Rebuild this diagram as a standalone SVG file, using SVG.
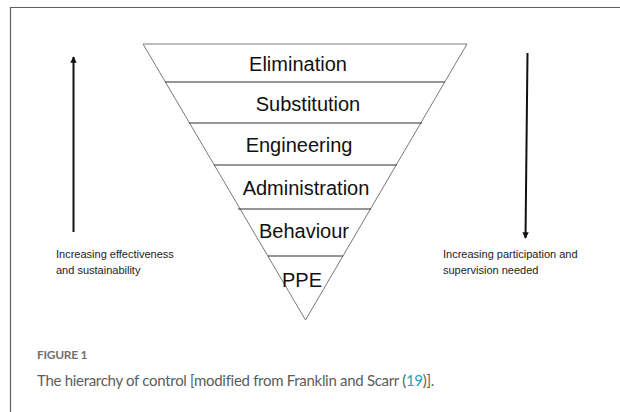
<svg xmlns="http://www.w3.org/2000/svg" width="620" height="412" viewBox="0 0 620 412">
  <style>
    .frame { fill: none; stroke: #5f5f5f; stroke-width: 1.2; }
    .tri { fill: #ffffff; stroke: #7a7a7a; stroke-width: 1; }
    .sep { stroke: #2f2f2f; stroke-width: 1.2; }
    .lbl { font-family: "Liberation Sans", Arial, sans-serif; font-size: 20px; fill: #111111; text-anchor: middle; }
    .side { font-family: "Liberation Sans", Arial, sans-serif; font-size: 11px; fill: #222222; }
    .arrow { stroke: #111111; stroke-width: 2; fill: none; }
    .caphead { font-family: "Lato", "Liberation Sans", sans-serif; font-size: 12px; letter-spacing: -0.3px; fill: #707070; font-weight: bold; }
    .captext { font-family: "Lato", "Liberation Sans", sans-serif; font-size: 15px; letter-spacing: -0.3px; fill: #5c5c5c; }
  </style>
  <defs>
    <marker id="ah" viewBox="0 0 10 10" refX="9" refY="5" markerWidth="3.2" markerHeight="3.6" orient="auto" markerUnits="strokeWidth">
      <path d="M0,0 L10,5 L0,10 Z" fill="#111111"/>
    </marker>
  </defs>
  <rect width="620" height="412" fill="#ffffff"/>
  <path class="frame" d="M10.5,420 L10.5,7.5 L630,7.5"/>

  <g id="pyramid">
    <polygon class="tri" points="143,44 467,44 305.5,320"/>
  </g>
  <g id="separators">
    <line class="sep" x1="165" y1="82" x2="445" y2="82"/>
    <line class="sep" x1="189" y1="123" x2="422" y2="123"/>
    <line class="sep" x1="214" y1="165" x2="397" y2="165"/>
    <line class="sep" x1="238" y1="209" x2="371" y2="209"/>
    <line class="sep" x1="268" y1="256" x2="343" y2="256"/>
  </g>
  <g id="elimination"><text class="lbl" x="298" y="71">Elimination</text></g>
  <g id="substitution"><text class="lbl" x="308" y="111">Substitution</text></g>
  <g id="engineering"><text class="lbl" x="299" y="152">Engineering</text></g>
  <g id="administration"><text class="lbl" x="306" y="195">Administration</text></g>
  <g id="behaviour"><text class="lbl" x="304" y="238">Behaviour</text></g>
  <g id="ppe"><text class="lbl" x="302" y="287">PPE</text></g>

  <g id="connectors">
    <line class="arrow" x1="73.5" y1="232" x2="73.5" y2="57" marker-end="url(#ah)"/>
    <line class="arrow" x1="527.5" y1="53" x2="525.5" y2="238" marker-end="url(#ah)"/>
  </g>

  <g id="left-label">
    <text class="side" x="56" y="258">Increasing effectiveness</text>
    <text class="side" x="56" y="274">and sustainability</text>
  </g>
  <g id="right-label">
    <text class="side" x="443" y="258">Increasing participation and</text>
    <text class="side" x="443" y="274">supervision needed</text>
  </g>

  <g id="caption">
    <text class="caphead" x="37" y="359">FIGURE 1</text>
    <text class="captext" x="37" y="386">The hierarchy of control [modified from Franklin and Scarr (<tspan fill="#1ba3c0">19</tspan>)].</text>
  </g>
</svg>
